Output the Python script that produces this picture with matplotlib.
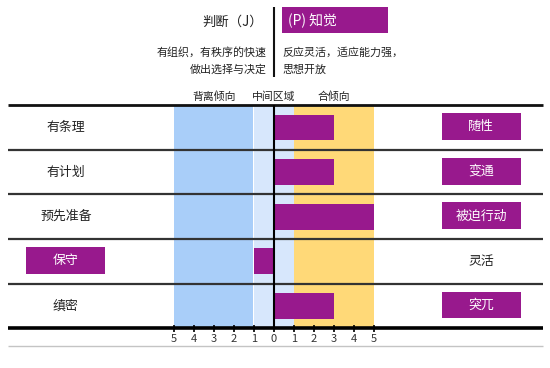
import matplotlib
matplotlib.use("Agg")
import matplotlib.pyplot as plt
from matplotlib.patches import Rectangle

plt.rcParams['font.family'] = ['Noto Sans CJK SC', 'DejaVu Sans']

# ---- data ----
left_labels = ["有条理", "有计划", "预先准备", "保守", "缜密"]
right_labels = ["随性", "变通", "被迫行动", "灵活", "突兀"]
values = [3, 3, 5, -1, 3]
tick_values = [-5, -4, -3, -2, -1, 0, 1, 2, 3, 4, 5]
zone_names = ["背离倾向", "中间区域", "合倾向"]
zone_edges = [(-5, -1.05), (-1.0, 1.0), (1.0, 5.0)]
zone_colors = ["#A9CEF9", "#D7E7FC", "#FFD978"]
head_left = "判断（J）"
head_right = "(P) 知觉"
sub_left = "有组织，有秩序的快速\n做出选择与决定"
sub_right = "反应灵活，适应能力强，\n思想开放"

PURPLE = "#98198D"

W, H = 550, 368
fig = plt.figure(figsize=(5.5, 3.68), dpi=100)
ax = fig.add_axes([0, 0, 1, 1])

# pixel layout: 0 at x=274px, 20px per unit; row 0 centre at 127.5px, 44.6px per row
x0px, xunit = 274.0, 20.0
y0px, yunit = 127.5, 44.6
ax.set_xlim(-x0px / xunit, (W - x0px) / xunit)
ax.set_ylim((H - y0px) / yunit, -y0px / yunit)
ax.axis("off")

def px_x(p):
    return (p - x0px) / xunit

def px_y(p):
    return (p - y0px) / yunit

n = len(values)
top, bot = -0.5, n - 0.5

# background zones
for (a, b), c in zip(zone_edges, zone_colors):
    ax.add_patch(Rectangle((a, top), b - a, bot - top, facecolor=c, edgecolor="none", zorder=1))

# bars
rows = list(range(n))
ax.barh(rows, values, height=0.58, left=0, color=PURPLE, zorder=3)

# row lines
xl, xr = px_x(8), px_x(543)
ax.hlines([top], xl, xr, color="#111111", lw=2.0, zorder=4)
ax.hlines([i + 0.5 for i in range(n - 1)], xl, xr, color="#333333", lw=1.6, zorder=4)
ax.hlines([bot], xl, xr, color="#000000", lw=2.6, zorder=4)
ax.hlines([px_y(345.5)], xl, xr, color="#C4C4C4", lw=1.0, zorder=4)

# zero line
ax.vlines(0, top, bot, color="#000000", lw=1.5, zorder=5)

# ticks
tick_h = 3.7 / yunit
for t in tick_values:
    ax.vlines(t, bot - tick_h, bot + tick_h, color="#000000", lw=1.2, zorder=5)
    ax.text(t, px_y(339.5), str(abs(t)), ha="center", va="center", fontsize=8,
            color="#333333", zorder=5)

# side labels
lx, rx = px_x(65.8), px_x(481.2)
bw = 79.0 / xunit
bh = 0.6
fs = 9.3
for i, (ll, rl, v) in enumerate(zip(left_labels, right_labels, values)):
    if v < 0:
        ax.add_patch(Rectangle((lx - bw / 2, i - bh / 2 - 0.02), bw, bh, facecolor=PURPLE,
                               edgecolor="none", zorder=3))
        ax.text(lx, i - 0.02, ll, ha="center", va="center", fontsize=fs, color="white", zorder=6)
        ax.text(rx, i, rl, ha="center", va="center", fontsize=fs, color="#222222", zorder=6)
    else:
        ax.add_patch(Rectangle((rx - bw / 2, i - bh / 2 - 0.02), bw, bh, facecolor=PURPLE,
                               edgecolor="none", zorder=3))
        ax.text(rx, i - 0.02, rl, ha="center", va="center", fontsize=fs, color="white", zorder=6)
        ax.text(lx, i, ll, ha="center", va="center", fontsize=fs, color="#222222", zorder=6)

# zone names
for (a, b), name in zip(zone_edges, zone_names):
    cx = 0 if a < 0 < b else (-3 if b < 0 else 3)
    ax.text(cx, px_y(97), name, ha="center", va="center", fontsize=7.8, color="#222222")

# header
ax.vlines(0, px_y(7), px_y(77), color="#111111", lw=1.5)
ax.text(px_x(263), px_y(21.5), head_left, ha="right", va="center", fontsize=9.6, color="#222222")
ax.add_patch(Rectangle((px_x(281.7), px_y(7.3)), (388.3 - 281.7) / xunit, (33.3 - 7.3) / yunit,
                       facecolor=PURPLE, edgecolor="none"))
ax.text(px_x(288), px_y(20.5), head_right, ha="left", va="center", fontsize=10, color="white")
ax.text(px_x(267), px_y(61), sub_left, ha="right", va="center", fontsize=7.9, color="#222222",
        linespacing=1.75, multialignment="right")
ax.text(px_x(282), px_y(61), sub_right, ha="left", va="center", fontsize=7.9, color="#222222",
        linespacing=1.75)

fig.savefig("out.png", dpi=100)
